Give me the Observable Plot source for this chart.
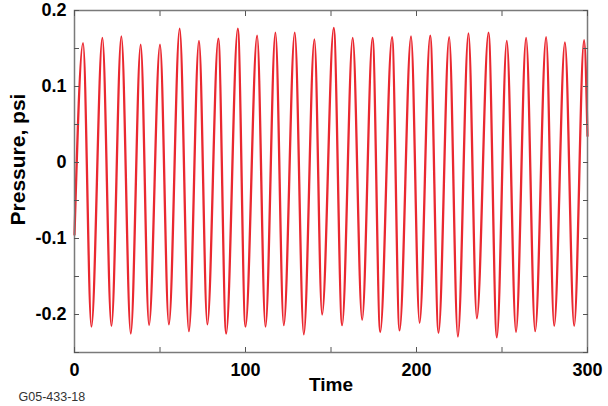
<!DOCTYPE html>
<html>
<head>
<meta charset="utf-8">
<script src="https://cdn.jsdelivr.net/npm/d3@7"></script>
<script src="https://cdn.jsdelivr.net/npm/@observablehq/plot@0.6"></script>
<style>
  html, body { margin: 0; padding: 0; background: #fff; }
  #chart { width: 608px; height: 406px; }
</style>
</head>
<body>
<div id="chart"></div>
<script>
// Time of each turning point (start, alternating peaks and troughs, end)
const time = [0, 5.0, 9.9, 16.3, 21.6, 27.4, 32.9, 38.7, 43.6, 50.0, 55.2, 61.5, 66.9, 72.8, 77.7, 84.1, 88.7, 95.5, 100.0, 106.8, 111.7, 117.5, 122.4, 128.8, 134.1, 140.3, 144.8, 151.6, 156.5, 162.7, 168.2, 174.3, 178.8, 185.7, 190.1, 196.8, 201.8, 208.0, 212.9, 219.1, 224.2, 230.4, 235.3, 242.1, 247.0, 252.8, 258.2, 264.1, 269.4, 275.8, 280.5, 286.8, 292.2, 298.0, 300];
// Pressure (psi) at those times
const pressure = [-0.095, 0.157, -0.216, 0.164, -0.215, 0.166, -0.225, 0.155, -0.214, 0.155, -0.213, 0.176, -0.222, 0.160, -0.213, 0.163, -0.225, 0.176, -0.216, 0.167, -0.216, 0.171, -0.214, 0.171, -0.226, 0.162, -0.200, 0.177, -0.214, 0.164, -0.207, 0.164, -0.223, 0.165, -0.221, 0.166, -0.211, 0.167, -0.224, 0.165, -0.229, 0.170, -0.205, 0.171, -0.230, 0.160, -0.223, 0.164, -0.222, 0.165, -0.215, 0.158, -0.215, 0.161, 0.035];

const xTicks = [0, 50, 100, 150, 200, 250, 300];
const xLabels = [0, 100, 200, 300];
const yTicks = [-0.25, -0.2, -0.15, -0.1, -0.05, 0, 0.05, 0.1, 0.15, 0.2];
const yLabels = [-0.2, -0.1, 0, 0.1, 0.2];
const xTitle = "Time";
const yTitle = "Pressure, psi";
const caption = "G05-433-18";

const data = time.map((t, i) => ({t, p: pressure[i]}));
const fmt = d => d === 0 ? "0" : d.toFixed(1);
const empty = () => "";

const chart = Plot.plot({
  width: 608,
  height: 406,
  marginLeft: 74,
  marginRight: 21,
  marginTop: 10,
  marginBottom: 54,
  style: {fontFamily: "'Liberation Sans', Arial, sans-serif", fontSize: "18px", fontWeight: "bold", color: "#000", background: "#fff"},
  x: {domain: [0, 300]},
  y: {domain: [-0.25, 0.2]},
  marks: [
    Plot.line(data, {x: "t", y: "p", stroke: "#ea2830", strokeWidth: 2.3, curve: "monotone-x"}),
    Plot.frame({stroke: "#7a7a7a", strokeWidth: 1.5}),
    // inward ticks
    Plot.axisX({anchor: "bottom", ticks: xTicks, tickSize: -5, tickFormat: empty, label: null, stroke: "#555"}),
    Plot.axisX({anchor: "top", ticks: xTicks, tickSize: -5, tickFormat: empty, label: null, stroke: "#555"}),
    Plot.axisY({anchor: "left", ticks: yTicks, tickSize: -5, tickFormat: empty, label: null, stroke: "#555"}),
    Plot.axisY({anchor: "right", ticks: yTicks, tickSize: -5, tickFormat: empty, label: null, stroke: "#555"}),
    // tick labels
    Plot.axisX({anchor: "bottom", ticks: xLabels, tickSize: 0, tickPadding: 11, tickFormat: d => String(d), label: null, fontSize: 18, fontWeight: "bold"}),
    Plot.axisY({anchor: "left", ticks: yLabels, tickSize: 0, tickPadding: 8, tickFormat: fmt, label: null, fontSize: 18, fontWeight: "bold"}),
    // titles
    Plot.text([xTitle], {frameAnchor: "bottom", textAnchor: "middle", dy: 38, fontSize: 19, fontWeight: "bold", fill: "#000"}),
    Plot.text([yTitle], {frameAnchor: "left", textAnchor: "middle", dx: -56, dy: -22, rotate: -90, fontSize: 21, fontWeight: "bold", fill: "#000"}),
    Plot.text([caption], {frameAnchor: "bottom-left", textAnchor: "start", dx: -56, dy: 48, fontSize: 12.5, fontWeight: "normal", fill: "#333"})
  ]
});
document.getElementById("chart").appendChild(chart);
</script>
</body>
</html>
